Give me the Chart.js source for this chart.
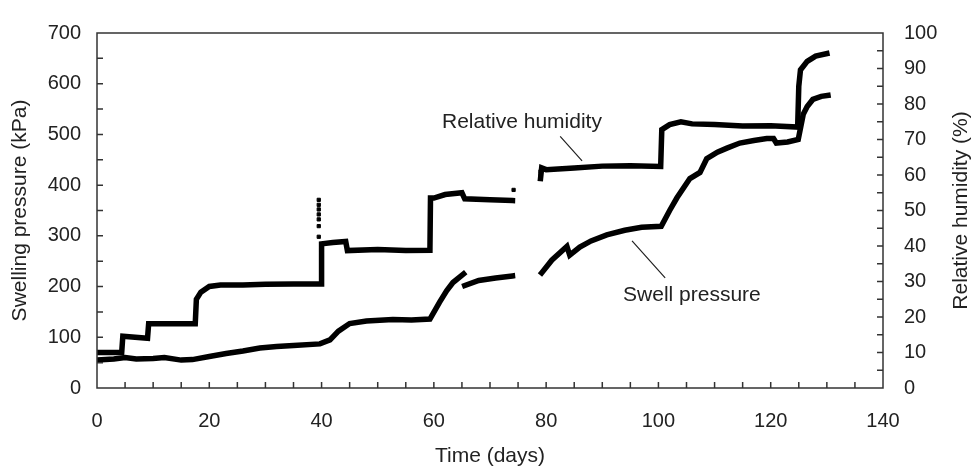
<!DOCTYPE html>
<html><head><meta charset="utf-8">
<script src="https://cdn.jsdelivr.net/npm/chart.js@4"></script>
<style>html,body{margin:0;padding:0;background:#fff}</style>
</head><body>
<canvas id="c" width="973" height="468" style="width:973px;height:468px;display:block"></canvas>
<script>
// ---- data ----
const swellTime = [0,3,5,7,10,12,15,17,20,23,26,29,32,35,39.7,41.5,43,45,48,52.7,56,59.3,61,62.3,63.4,65.3,65.4,65.5,68,71,74,76,79.2,81,83.7,84.2,86,88,90.8,94,97,100.5,102,103.3,105.6,107.4,108.6,110.5,112.2,114.5,117,119.3,120.5,121,123,124.9,125.8,126.5,127.5,129,130.2];
const swellPressure = [55,57,60,57,58,60,55,56,62,68,73,79,82,84,87,95,112,127,132,135,134,136,169,192,208,225,null,202,212,217,221,null,227,252,279,262,278,290,302,311,317,319,350,375,413,425,452,465,473,483,488,492,492,483,485,490,540,555,569,575,577];
const rhTime = [0,4.4,4.6,9.0,9.2,17.5,17.7,18.5,20,22,26,30,35,39.9,40.0,42,44.3,44.6,50,55,59.3,59.4,60,62,65,65.5,70,74,76,79,79.2,80,85,90,95,100.4,100.6,102,104,106,110,115,120,124.8,125,125.3,126.5,128,130];
const rhValue = [10,10,14.6,14,18.1,18.1,25,27,28.6,29,29,29.2,29.3,29.3,40.6,41,41.3,38.7,39,38.7,38.8,53.5,53.5,54.5,55,53.3,53,52.8,null,59,62,61.5,62,62.5,62.6,62.4,72.8,74.2,75,74.4,74.2,73.8,73.9,73.5,85,89.6,92,93.5,94.2];
const rhScatterTime = [39.5,39.5,39.5,39.5,39.5,39.5,39.5,74.2,79,79];
const rhScatterValue = [53,51.6,50.3,48.9,47.5,45.6,42.6,55.8,60,61];
const xTickStep = 20, leftTickStep = 100, rightTickStep = 10;
const xTitle = 'Time (days)';
const leftTitle = 'Swelling pressure (kPa)';
const rightTitle = 'Relative humidity (%)';
const rhLabel = 'Relative humidity';
const swellLabel = 'Swell pressure';

const toPts = (xs, ys) => xs.map((x, i) => ({x: x, y: ys[i]}));
const FONT = '"Liberation Sans", Arial, sans-serif';
const TXT = '#222';

const decor = {
  id: 'decor',
  afterDraw(chart) {
    const {ctx, chartArea: a, scales} = chart;
    const sx = scales.x, sy = scales.y, sr = scales.y1;
    ctx.save();
    ctx.strokeStyle = '#333';
    ctx.lineWidth = 1.5;
    ctx.strokeRect(a.left, a.top, a.right - a.left, a.bottom - a.top);
    ctx.beginPath();
    const tl = 6;
    for (let v = 5; v < 140; v += 5) { const p = sx.getPixelForValue(v); ctx.moveTo(p, a.bottom); ctx.lineTo(p, a.bottom - tl); }
    for (let v = 50; v < 700; v += 50) { const p = sy.getPixelForValue(v); ctx.moveTo(a.left, p); ctx.lineTo(a.left + tl, p); }
    for (let v = 5; v < 100; v += 5) { const p = sr.getPixelForValue(v); ctx.moveTo(a.right, p); ctx.lineTo(a.right - tl, p); }
    ctx.stroke();
    // axis titles
    ctx.fillStyle = TXT;
    ctx.font = '21px ' + FONT;
    ctx.textAlign = 'center'; ctx.textBaseline = 'middle';
    ctx.fillText(xTitle, (a.left + a.right) / 2, 456);
    ctx.save(); ctx.translate(20, (a.top + a.bottom) / 2); ctx.rotate(-Math.PI / 2); ctx.fillText(leftTitle, 0, 0); ctx.restore();
    ctx.save(); ctx.translate(961, (a.top + a.bottom) / 2); ctx.rotate(-Math.PI / 2); ctx.fillText(rightTitle, 0, 0); ctx.restore();
    // annotations
    ctx.textAlign = 'left';
    ctx.fillText(rhLabel, sx.getPixelForValue(61.45), sy.getPixelForValue(525));
    ctx.fillText(swellLabel, sx.getPixelForValue(93.7), sy.getPixelForValue(183));
    ctx.strokeStyle = '#222'; ctx.lineWidth = 1.2;
    ctx.beginPath();
    ctx.moveTo(sx.getPixelForValue(82.5), sy.getPixelForValue(496)); ctx.lineTo(sx.getPixelForValue(86.4), sy.getPixelForValue(448));
    ctx.moveTo(sx.getPixelForValue(95.3), sy.getPixelForValue(290)); ctx.lineTo(sx.getPixelForValue(101.2), sy.getPixelForValue(217));
    ctx.stroke();
    ctx.restore();
  }
};

new Chart(document.getElementById('c'), {
  type: 'scatter',
  data: {
    datasets: [
      {label: 'Swell pressure', data: toPts(swellTime, swellPressure), yAxisID: 'y', showLine: true, spanGaps: false,
       borderColor: '#000', borderWidth: 5.5, pointRadius: 0, borderCapStyle: 'square'},
      {label: 'Relative humidity', data: toPts(rhTime, rhValue), yAxisID: 'y1', showLine: true, spanGaps: false,
       borderColor: '#000', borderWidth: 5.5, pointRadius: 0, borderCapStyle: 'square'},
      {label: 'RH scatter', data: toPts(rhScatterTime, rhScatterValue), yAxisID: 'y1', showLine: false,
       backgroundColor: '#000', borderColor: '#000', pointStyle: 'rect', pointRadius: 2.3}
    ]
  },
  options: {
    responsive: false, animation: false, devicePixelRatio: 1,
    layout: {padding: {top: 24, left: 0, right: 0, bottom: 0}},
    plugins: {legend: {display: false}, tooltip: {enabled: false}},
    scales: {
      x: {type: 'linear', position: 'bottom', min: 0, max: 140,
          ticks: {stepSize: xTickStep, color: TXT, font: {family: FONT, size: 20}, padding: 21, maxRotation: 0},
          grid: {display: false, drawTicks: false}, border: {display: false},
          afterFit: s => { s.height = 80; }},
      y: {position: 'left', min: 0, max: 700,
          ticks: {stepSize: leftTickStep, color: TXT, font: {family: FONT, size: 20}, padding: 16},
          grid: {display: false, drawTicks: false}, border: {display: false},
          afterFit: s => { s.width = 97; }},
      y1: {position: 'right', min: 0, max: 100,
          ticks: {stepSize: rightTickStep, color: TXT, font: {family: FONT, size: 20}, padding: 21},
          grid: {display: false, drawTicks: false}, border: {display: false},
          afterFit: s => { s.width = 90; }}
    }
  },
  plugins: [decor]
});
</script>
</body></html>
